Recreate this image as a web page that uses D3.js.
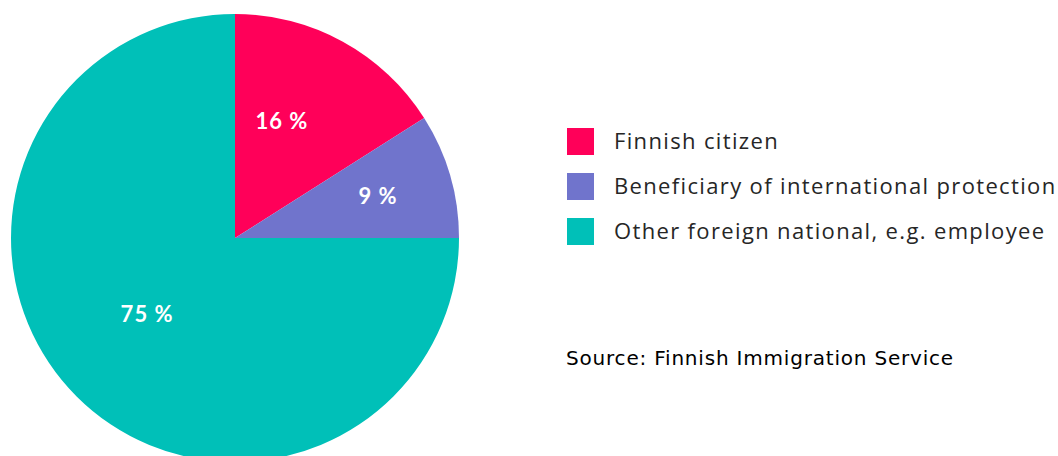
<!DOCTYPE html>
<html>
<head>
<meta charset="utf-8">
<script src="https://cdn.jsdelivr.net/npm/d3@7"></script>
<style>
  html, body { margin: 0; padding: 0; background: #ffffff; }
  svg { display: block; }
</style>
</head>
<body>
<svg id="chart" width="1058" height="456"></svg>
<script>
// Share of residence permit holders by background
const categories = ["Finnish citizen", "Beneficiary of international protection", "Other foreign national, e.g. employee"];
const shares = [16, 9, 75];
const sliceLabels = ["16 %", "9 %", "75 %"];
const colors = ["#ff0059", "#7074cc", "#00c0b8"];
const sourceText = "Source: Finnish Immigration Service";

const svg = d3.select("#chart");
const cx = 235, cy = 238, radius = 224;

const pie = d3.pie().sort(null).value(d => d)(shares);
const arc = d3.arc().innerRadius(0).outerRadius(radius);

const g = svg.append("g").attr("transform", `translate(${cx},${cy})`);

g.selectAll("path.slice")
  .data(pie)
  .join("path")
  .attr("class", "slice")
  .attr("d", arc)
  .attr("fill", (d, i) => colors[i]);

// label distance from centre, as a fraction of the radius, per slice
const labelFrac = [0.56, 0.665, 0.52];
const labelShift = [-0.12, 0, 0.07]; // small angular nudge (radians)
g.selectAll("text.value")
  .data(pie)
  .join("text")
  .attr("class", "value")
  .attr("transform", (d, i) => {
    const a = (d.startAngle + d.endAngle) / 2 + labelShift[i];
    const r = radius * labelFrac[i];
    return `translate(${Math.sin(a) * r},${-Math.cos(a) * r})`;
  })
  .attr("text-anchor", "middle")
  .attr("dy", "0.35em")
  .attr("fill", "#ffffff")
  .attr("font-family", "Lato, 'Open Sans', sans-serif")
  .attr("font-weight", "bold")
  .attr("font-size", 22)
  .attr("letter-spacing", 1)
  .text((d, i) => sliceLabels[i]);

// legend
const legend = svg.append("g").attr("transform", "translate(567,128)");
const item = legend.selectAll("g")
  .data(categories)
  .join("g")
  .attr("transform", (d, i) => `translate(0,${i * 45})`);
item.append("rect")
  .attr("width", 27).attr("height", 27)
  .attr("fill", (d, i) => colors[i]);
item.append("text")
  .attr("x", 47).attr("y", 21)
  .attr("fill", "#262626")
  .attr("font-family", "'Open Sans', Lato, sans-serif")
  .attr("font-size", 22)
  .attr("letter-spacing", 1.35)
  .text(d => d);

svg.append("text")
  .attr("x", 566).attr("y", 365)
  .attr("fill", "#000000")
  .attr("font-family", "'DejaVu Sans', Verdana, sans-serif")
  .attr("font-size", 20)
  .attr("letter-spacing", 0.8)
  .text(sourceText);
</script>
</body>
</html>
